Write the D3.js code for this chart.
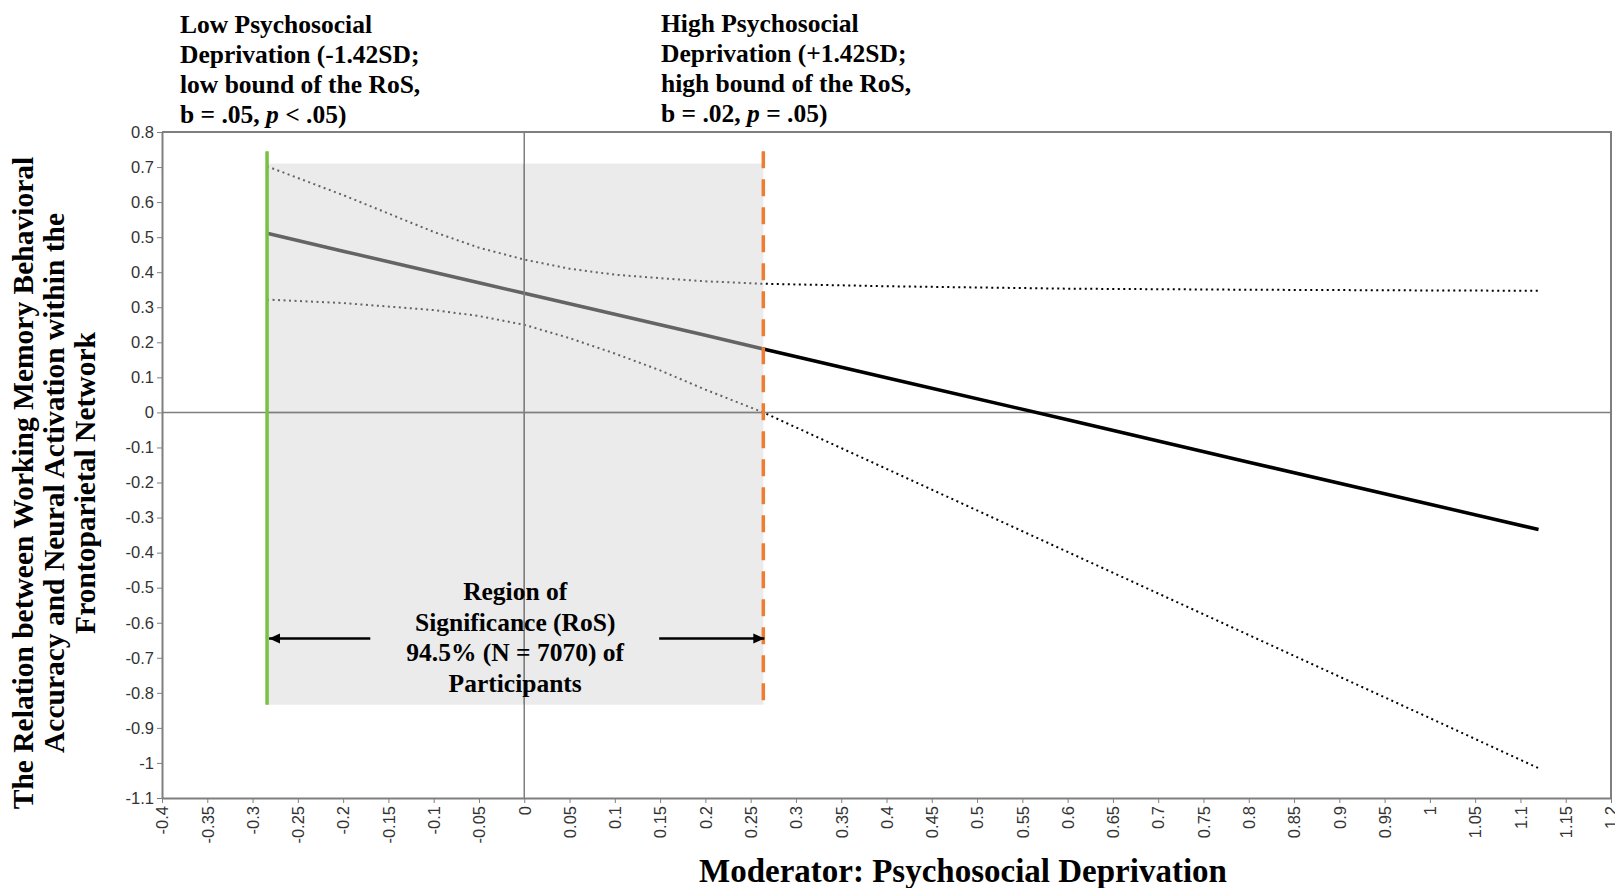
<!DOCTYPE html>
<html lang="en">
    <head>
        <meta charset="utf-8">
        <title>Region of Significance</title>
        <script type="text/javascript" src="https://cdnjs.cloudflare.com/ajax/libs/d3/7.8.5/d3.min.js"></script>
        <style>
            body { margin: 0; background: #fff; }
            .serif { font-family: "Liberation Serif", "Times New Roman", serif; font-weight: bold; fill: #000; }
            .axis text { font-family: "Liberation Sans", Arial, sans-serif; font-size: 16.5px; fill: #333; }
            .axis path, .axis line { stroke: #7f7f7f; }
        </style>
    </head>
    <body>
        <div id="chart"></div>
        <script type="text/javascript">
            // moderator values and the simple slope with its confidence band
            var modValues   = [-0.284, -0.2, -0.1, -0.05, 0, 0.05, 0.1, 0.15, 0.2, 0.264, 0.4, 0.6, 0.8, 1.0, 1.12];
            var slopeValues = [0.511, 0.46, 0.40, 0.37, 0.34, 0.31, 0.28, 0.25, 0.22, 0.181, 0.099, -0.021, -0.142, -0.262, -0.334];
            var ciUpper     = [0.702, 0.62, 0.515, 0.47, 0.436, 0.41, 0.393, 0.383, 0.374, 0.367, 0.36, 0.353, 0.35, 0.348, 0.347];
            var ciLower     = [0.322, 0.312, 0.292, 0.275, 0.25, 0.212, 0.168, 0.12, 0.065, 0.0, -0.161, -0.398, -0.635, -0.872, -1.015];

            // region of significance bounds
            var rosLow = -0.284;
            var rosHigh = 0.264;
            var rosTop = 0.71, rosBottom = -0.834, boundTop = 0.745;
            var arrowY = -0.645, arrowTails = [-0.17, 0.149];

            var xTickValues = [-0.4, -0.35, -0.3, -0.25, -0.2, -0.15, -0.1, -0.05, 0, 0.05, 0.1, 0.15, 0.2, 0.25, 0.3, 0.35,
                               0.4, 0.45, 0.5, 0.55, 0.6, 0.65, 0.7, 0.75, 0.8, 0.85, 0.9, 0.95, 1, 1.05, 1.1, 1.15, 1.2];
            var yTickValues = [0.8, 0.7, 0.6, 0.5, 0.4, 0.3, 0.2, 0.1, 0, -0.1, -0.2, -0.3, -0.4, -0.5, -0.6, -0.7, -0.8, -0.9, -1, -1.1];

            var lowLabel = [["Low Psychosocial"], ["Deprivation (-1.42SD;"], ["low bound of the RoS,"], ["b = .05, ", "p", " < .05)"]];
            var highLabel = [["High Psychosocial"], ["Deprivation (+1.42SD;"], ["high bound of the RoS,"], ["b = .02, ", "p", " = .05)"]];
            var rosLabel = ["Region of", "Significance (RoS)", "94.5% (N = 7070) of", "Participants"];
            var yTitle = ["The Relation between Working Memory Behavioral", "Accuracy and Neural Activation within the", "Frontoparietal Network"];
            var xTitle = "Moderator: Psychosocial Deprivation";

            var width = 1615;
            var height = 888;
            var margin = {top: 132, right: 4, bottom: 90, left: 162};

            var svg = d3.select("#chart")
                .append("svg")
                .attr("width", width)
                .attr("height", height);

            var xScale = d3.scaleLinear()
                .domain([-0.4, 1.2])
                .range([margin.left, width - margin.right]);
            var yScale = d3.scaleLinear()
                .domain([-1.1, 0.8])
                .range([height - margin.bottom, margin.top]);

            var fmt = function(d){ return String(Math.round(d * 100) / 100); };

            // x axis with vertical labels
            var xAxisG = svg.append("g")
                .attr("class", "axis")
                .attr("transform", "translate(0," + (height - margin.bottom) + ")")
                .call(d3.axisBottom(xScale).tickValues(xTickValues).tickSize(5).tickSizeOuter(0).tickFormat(fmt));
            xAxisG.selectAll("text")
                .attr("transform", "rotate(-90)")
                .attr("x", -8)
                .attr("y", 0)
                .attr("dy", "0.35em")
                .style("text-anchor", "end");

            svg.append("g")
                .attr("class", "axis")
                .attr("transform", "translate(" + margin.left + ",0)")
                .call(d3.axisLeft(yScale).tickValues(yTickValues).tickSize(5).tickPadding(3).tickSizeOuter(0).tickFormat(fmt));

            svg.selectAll(".axis .domain").attr("stroke-width", 2);

            // top and right frame
            svg.append("path")
                .attr("d", "M" + xScale(-0.4) + "," + yScale(0.8) + "H" + xScale(1.2) + "V" + yScale(-1.1))
                .attr("fill", "none")
                .attr("stroke", "#7f7f7f")
                .attr("stroke-width", 2);

            function zeroLines(x0, x1, y0, y1){
                svg.append("line")
                    .attr("x1", xScale(x0)).attr("x2", xScale(x1))
                    .attr("y1", yScale(0)).attr("y2", yScale(0))
                    .attr("stroke", "#7f7f7f").attr("stroke-width", 1.5);
                svg.append("line")
                    .attr("x1", xScale(0)).attr("x2", xScale(0))
                    .attr("y1", yScale(y0)).attr("y2", yScale(y1))
                    .attr("stroke", "#7f7f7f").attr("stroke-width", 1.5);
            }
            zeroLines(-0.4, 1.2, 0.8, -1.1);

            var line = function(values){
                return d3.line()
                    .x(function(d, i){ return xScale(modValues[i]); })
                    .y(function(d){ return yScale(d); })(values);
            };

            // confidence band (dotted)
            [ciUpper, ciLower].forEach(function(vals){
                svg.append("path")
                    .attr("d", line(vals))
                    .attr("fill", "none")
                    .attr("stroke", "#000")
                    .attr("stroke-width", 2)
                    .attr("stroke-dasharray", "2,3.5");
            });

            // simple slope
            svg.append("path")
                .attr("d", line(slopeValues))
                .attr("fill", "none")
                .attr("stroke", "#000")
                .attr("stroke-width", 3.5);

            // shaded region of significance drawn over the lines
            svg.append("rect")
                .attr("x", xScale(rosLow))
                .attr("y", yScale(rosTop))
                .attr("width", xScale(rosHigh) - xScale(rosLow))
                .attr("height", yScale(rosBottom) - yScale(rosTop))
                .attr("fill", "rgb(213,213,213)")
                .attr("fill-opacity", 0.47);
            zeroLines(rosLow, rosHigh, rosTop, rosBottom);

            // low and high bounds
            svg.append("line")
                .attr("x1", xScale(rosLow)).attr("x2", xScale(rosLow))
                .attr("y1", yScale(boundTop)).attr("y2", yScale(rosBottom))
                .attr("stroke", "#7ac143").attr("stroke-width", 3.5);
            svg.append("line")
                .attr("x1", xScale(rosHigh)).attr("x2", xScale(rosHigh))
                .attr("y1", yScale(boundTop)).attr("y2", yScale(rosBottom))
                .attr("stroke", "#ed7d31").attr("stroke-width", 3.5)
                .attr("stroke-dasharray", "17,11");

            // arrows
            svg.append("defs").append("marker")
                .attr("id", "arrow")
                .attr("viewBox", "0 -5 10 10")
                .attr("refX", 10)
                .attr("refY", 0)
                .attr("markerUnits", "userSpaceOnUse")
                .attr("markerWidth", 11)
                .attr("markerHeight", 11)
                .attr("orient", "auto")
                .append("path")
                .attr("d", "M0,-4.5L10,0L0,4.5Z")
                .attr("fill", "#000");
            [[arrowTails[0], rosLow, 2], [arrowTails[1], rosHigh, 1]].forEach(function(a){
                svg.append("line")
                    .attr("x1", xScale(a[0])).attr("x2", xScale(a[1]) + a[2])
                    .attr("y1", yScale(arrowY)).attr("y2", yScale(arrowY))
                    .attr("stroke", "#000").attr("stroke-width", 2.5)
                    .attr("marker-end", "url(#arrow)");
            });

            // RoS label
            var rosText = svg.append("text")
                .attr("class", "serif")
                .attr("font-size", 25.5)
                .attr("text-anchor", "middle");
            rosLabel.forEach(function(t, i){
                rosText.append("tspan")
                    .attr("x", xScale((rosLow + rosHigh) / 2))
                    .attr("y", 600 + i * 30.7)
                    .text(t);
            });

            // bound annotations above the plot
            function annotate(lines, x, y0){
                var t = svg.append("text").attr("class", "serif").attr("font-size", 25.5);
                lines.forEach(function(parts, i){
                    parts.forEach(function(p, j){
                        var ts = t.append("tspan").text(p);
                        if (j === 0) ts.attr("x", x).attr("y", y0 + i * 30);
                        if (j === 1) ts.attr("font-style", "italic");
                    });
                });
            }
            annotate(lowLabel, 180, 33.3);
            annotate(highLabel, 661, 31.7);

            // y title
            var yt = svg.append("text")
                .attr("class", "serif")
                .attr("font-size", 29.5)
                .attr("text-anchor", "middle")
                .attr("transform", "translate(0,483) rotate(-90)");
            yTitle.forEach(function(t, i){
                yt.append("tspan")
                    .attr("x", 0)
                    .attr("y", 33 + i * 31)
                    .text(t);
            });

            // x title
            svg.append("text")
                .attr("class", "serif")
                .attr("font-size", 33)
                .attr("text-anchor", "middle")
                .attr("x", 963)
                .attr("y", 882)
                .text(xTitle);
        </script>
    </body>
</html>
